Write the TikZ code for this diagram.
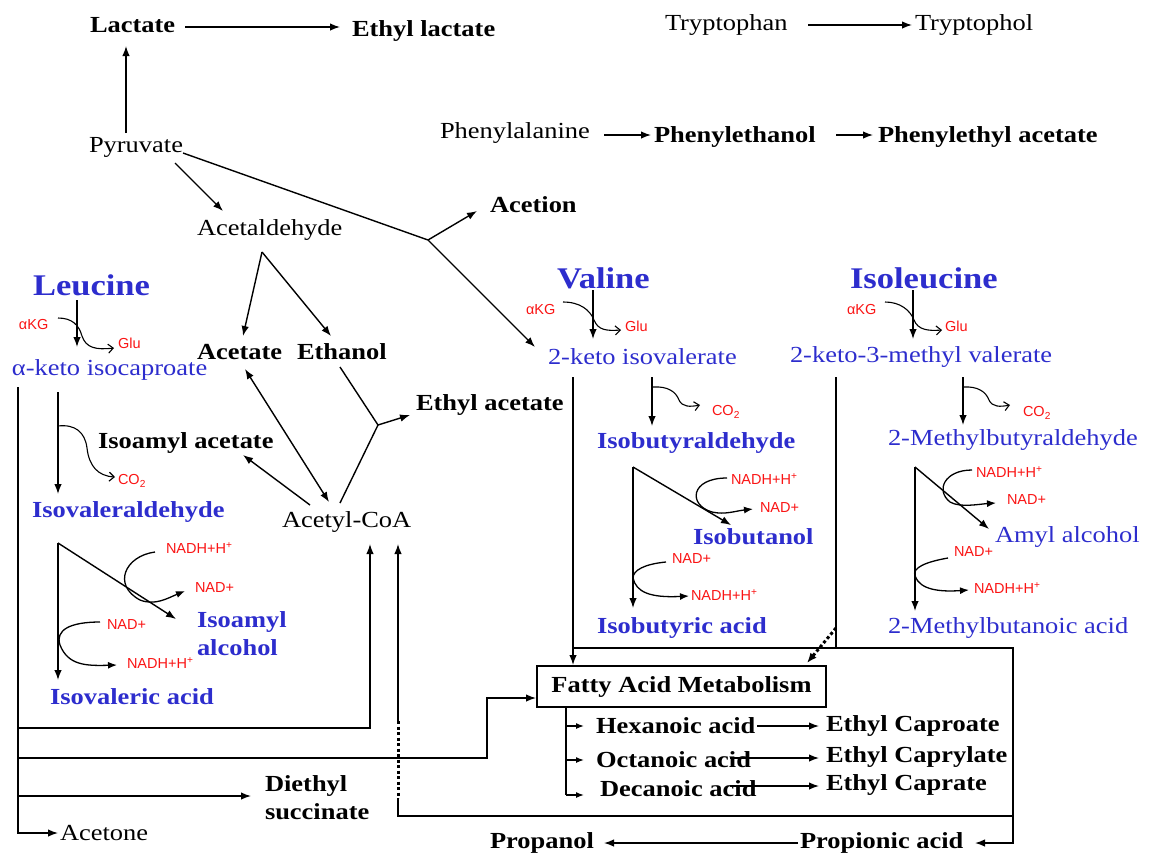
\documentclass[tikz,border=0pt]{standalone}
\usepackage{fontspec}
\setmainfont[FakeStretch=1.15]{Liberation Serif}
\newfontfamily\lblfont{Liberation Sans}
\usetikzlibrary{arrows.meta}
\definecolor{aablue}{RGB}{45,45,205}
\definecolor{aared}{RGB}{250,20,20}
\tikzset{
 every node/.style={inner sep=0pt, outer sep=0pt, anchor=west},
 rt/.style={font=\fontsize{23}{28}\selectfont},
 bt/.style={font=\fontsize{23}{28}\selectfont\bfseries},
 hd/.style={font=\fontsize{30}{32}\selectfont\bfseries, text=aablue},
 brt/.style={rt, text=aablue},
 bbt/.style={bt, text=aablue},
 lbl/.style={font=\lblfont\fontsize{14.5}{15}\selectfont, text=aared},
 conn/.style={line width=1.4pt},
 arr/.style={conn, -{Latex[length=10pt,width=7.5pt]}},
 sarr/.style={conn, -{Latex[length=8pt,width=6pt]}},
 darr/.style={conn, {Latex[length=10pt,width=7.5pt]}-{Latex[length=10pt,width=7.5pt]}},
 barb/.style={line width=1.1pt, -{Straight Barb[length=5pt,width=9pt]}},
 curv/.style={line width=1.3pt, -{Latex[length=9pt,width=7pt]}},
 dots/.style={line width=3pt, dash pattern=on 3pt off 2.5pt},
}
\begin{document}
\begin{tikzpicture}[x=1pt,y=-1pt]
\useasboundingbox (0,0) rectangle (1151,855);

% ---------- top ----------
\node[bt] (lact) at (90,25) {Lactate};
\node[bt] (elact) at (352,31) {Ethyl lactate};
\node[rt] (pyr) at (89,147) {Pyruvate};
\node[rt] (acald) at (197,230) {Acetaldehyde};
\node[bt] (acetion) at (490,205) {Acetion};
\node[rt] (trp) at (665,25) {Tryptophan};
\node[rt] (trpol) at (915,25) {Tryptophol};
\node[rt] (phe) at (440,133) {Phenylalanine};
\node[bt] (pheol) at (654,137) {Phenylethanol};
\node[bt] (pheac) at (878,137) {Phenylethyl acetate};

\coordinate (la1) at (185,27); \coordinate (la2) at (340,27);
\draw[arr] (la1) -- (la2);
\coordinate (py1) at (126,133); \coordinate (py2) at (126,46);
\draw[arr] (py1) -- (py2);
\coordinate (py3) at (175,163); \coordinate (py4) at (223,211);
\draw[arr] (py3) -- (py4);
\coordinate (py5) at (183,153); \coordinate (jn1) at (428,240);
\coordinate (kv0) at (535,347); \coordinate (ac0) at (477,211);
\draw[arr] (py5) -- (jn1) -- (kv0);
\draw[arr] (jn1) -- (ac0);
\coordinate (tr1) at (808,25); \coordinate (tr2) at (912,25);
\draw[arr] (tr1) -- (tr2);
\coordinate (ph1) at (604,135); \coordinate (ph2) at (651,135);
\draw[arr] (ph1) -- (ph2);
\coordinate (ph3) at (836,135); \coordinate (ph4) at (873,135);
\draw[arr] (ph3) -- (ph4);

% ---------- middle ----------
\node[bt] (acetate) at (197,352) {Acetate};
\node[bt] (ethanol) at (297,352) {Ethanol};
\node[bt] (eacet) at (416,405) {Ethyl acetate};
\node[bt] (iaac) at (98,443) {Isoamyl acetate};
\node[rt] (acoa) at (282,522) {Acetyl-CoA};

\coordinate (ad0) at (262,252); \coordinate (ad1) at (243,336); \coordinate (ad2) at (331,336);
\draw[arr] (ad0) -- (ad1);
\draw[arr] (ad0) -- (ad2);
\coordinate (et1) at (340,367); \coordinate (jn2) at (378,425);
\coordinate (co1) at (340,503); \coordinate (ea1) at (410,415);
\draw[conn] (et1) -- (jn2);
\draw[arr] (co1) -- (jn2) -- (ea1);
\coordinate (at1) at (245,369); \coordinate (co2) at (329,502);
\draw[darr] (at1) -- (co2);
\coordinate (co3) at (310,505); \coordinate (ia1) at (243,455);
\draw[arr] (co3) -- (ia1);

% ---------- Leucine ----------
\node[hd] (leu) at (33,285) {Leucine};
\node[lbl] (akg1) at (19,325) {αKG};
\node[lbl] (glu1) at (118,343) {Glu};
\node[brt] (kic) at (12,370) {α-keto isocaproate};
\node[lbl] (co21) at (118,481) {CO\textsubscript{2}};
\node[bbt] (ival) at (32,512) {Isovaleraldehyde};
\node[lbl] (nadh1a) at (166,548) {NADH+H\textsuperscript{+}};
\node[lbl] (nad1a) at (195,588) {NAD+};
\node[bbt, align=left] (iaalc) at (197,634) {Isoamyl\\alcohol};
\node[lbl] (nad1b) at (107,625) {NAD+};
\node[lbl] (nadh1b) at (127,663) {NADH+H\textsuperscript{+}};
\node[bbt] (ivac) at (50,697) {Isovaleric acid};

\coordinate (l1a) at (77,300); \coordinate (l1b) at (77,347);
\draw[arr] (l1a) -- (l1b);
\coordinate (l1c) at (58,318); \coordinate (l1d) at (114,348);
\draw[barb] (l1c) .. controls (72,318) and (79,325) .. (82,336) .. controls (86,348) and (96,350) .. (l1d);
\coordinate (l2a) at (58,392); \coordinate (l2b) at (58,494);
\draw[arr] (l2a) -- (l2b);
\coordinate (l2c) at (58,426); \coordinate (l2d) at (115,477);
\draw[barb] (l2c) .. controls (75,424) and (85,432) .. (87,448) .. controls (89,466) and (98,476) .. (l2d);
\coordinate (l3a) at (58,543); \coordinate (l3b) at (58,680); \coordinate (l3c) at (176,619);
\draw[arr] (l3a) -- (l3b);
\draw[arr] (l3a) -- (l3c);
\coordinate (l3d) at (155,552); \coordinate (l3e) at (185,591);
\draw[curv] (l3d) .. controls (125,556) and (112,585) .. (140,600) .. controls (155,606) and (168,598) .. (l3e);
\coordinate (l3f) at (100,622); \coordinate (l3g) at (117,665);
\draw[curv] (l3f) .. controls (70,622) and (55,630) .. (60,645) .. controls (68,665) and (85,666) .. (l3g);

% ---------- Valine ----------
\node[hd] (val) at (557,278) {Valine};
\node[lbl] (akg2) at (526,310) {αKG};
\node[lbl] (glu2) at (625,326) {Glu};
\node[brt] (kiv) at (548,357) {2-keto isovalerate};
\node[lbl] (co22) at (712,412) {CO\textsubscript{2}};
\node[bbt] (ibal) at (597,443) {Isobutyraldehyde};
\node[lbl] (nadh2a) at (731,479) {NADH+H\textsuperscript{+}};
\node[lbl] (nad2a) at (760,508) {NAD+};
\node[bbt] (ibol) at (693,537) {Isobutanol};
\node[lbl] (nad2b) at (672,559) {NAD+};
\node[lbl] (nadh2b) at (691,595) {NADH+H\textsuperscript{+}};
\node[bbt] (ibac) at (597,628) {Isobutyric acid};

\coordinate (v1a) at (593,290); \coordinate (v1b) at (593,339);
\draw[arr] (v1a) -- (v1b);
\coordinate (v1c) at (563,302); \coordinate (v1d) at (621,330);
\draw[barb] (v1c) .. controls (580,302) and (590,310) .. (594,320) .. controls (598,330) and (606,331) .. (v1d);
\coordinate (v2a) at (652,377); \coordinate (v2b) at (652,426);
\draw[arr] (v2a) -- (v2b);
\coordinate (v2c) at (653,387); \coordinate (v2d) at (700,405);
\draw[barb] (v2c) .. controls (668,386) and (676,392) .. (679,400) .. controls (682,407) and (690,407) .. (v2d);
\coordinate (v3a) at (633,467); \coordinate (v3b) at (633,608); \coordinate (v3c) at (731,525);
\draw[arr] (v3a) -- (v3b);
\draw[arr] (v3a) -- (v3c);
\coordinate (v3d) at (727,478); \coordinate (v3e) at (753,509);
\draw[curv] (v3d) .. controls (690,478) and (688,505) .. (712,512) .. controls (725,515) and (735,511) .. (v3e);
\coordinate (v3f) at (666,562); \coordinate (v3g) at (689,596);
\draw[curv] (v3f) .. controls (645,564) and (633,570) .. (633,578) .. controls (636,592) and (650,598) .. (v3g);

% ---------- Isoleucine ----------
\node[hd] (ile) at (850,278) {Isoleucine};
\node[lbl] (akg3) at (847,310) {αKG};
\node[lbl] (glu3) at (945,326) {Glu};
\node[brt] (kmv) at (790,357) {2-keto-3-methyl valerate};
\node[lbl] (co23) at (1023,413) {CO\textsubscript{2}};
\node[brt] (mbal) at (888,440) {2-Methylbutyraldehyde};
\node[lbl] (nadh3a) at (976,472) {NADH+H\textsuperscript{+}};
\node[lbl] (nad3a) at (1007,500) {NAD+};
\node[brt] (amyl) at (995,537) {Amyl alcohol};
\node[lbl] (nad3b) at (954,552) {NAD+};
\node[lbl] (nadh3b) at (974,588) {NADH+H\textsuperscript{+}};
\node[brt] (mbac) at (888,628) {2-Methylbutanoic acid};

\coordinate (i1a) at (913,290); \coordinate (i1b) at (913,339);
\draw[arr] (i1a) -- (i1b);
\coordinate (i1c) at (885,302); \coordinate (i1d) at (942,330);
\draw[barb] (i1c) .. controls (900,302) and (910,310) .. (914,320) .. controls (918,330) and (928,331) .. (i1d);
\coordinate (i2a) at (963,377); \coordinate (i2b) at (963,425);
\draw[arr] (i2a) -- (i2b);
\coordinate (i2c) at (963,387); \coordinate (i2d) at (1010,405);
\draw[barb] (i2c) .. controls (978,386) and (986,392) .. (989,400) .. controls (992,407) and (1000,407) .. (i2d);
\coordinate (i3a) at (915,467); \coordinate (i3b) at (915,611); \coordinate (i3c) at (989,529);
\draw[arr] (i3a) -- (i3b);
\draw[arr] (i3a) -- (i3c);
\coordinate (i3d) at (972,470); \coordinate (i3e) at (996,503);
\draw[curv] (i3d) .. controls (945,470) and (935,490) .. (950,502) .. controls (960,508) and (980,504) .. (i3e);
\coordinate (i3f) at (948,558); \coordinate (i3g) at (969,590);
\draw[curv] (i3f) .. controls (925,562) and (912,568) .. (915,576) .. controls (920,590) and (940,592) .. (i3g);

% ---------- lower network ----------
\node[draw, line width=1.4pt, bt, minimum width=289pt, minimum height=41pt, anchor=north west] (fam) at (537,666) {Fatty Acid Metabolism};
\node[bt] (hex) at (596,726) {Hexanoic acid};
\node[bt] (oct) at (596,760) {Octanoic acid};
\node[bt] (dec) at (600,789) {Decanoic acid};
\node[bt] (ecap1) at (826,726) {Ethyl Caproate};
\node[bt] (ecap2) at (826,757) {Ethyl Caprylate};
\node[bt] (ecap3) at (826,785) {Ethyl Caprate};
\node[bt] (propanol) at (490,843) {Propanol};
\node[bt] (propac) at (800,843) {Propionic acid};
\node[bt, align=left] (dsucc) at (265,798) {Diethyl\\succinate};
\node[rt] (acetone) at (60,833) {Acetone};

% left trunk
\coordinate (lt0) at (18,387); \coordinate (lt1) at (18,833); \coordinate (lt2) at (58,833);
\draw[arr] (lt0) -- (lt1) -- (lt2);
\coordinate (lh1) at (18,728); \coordinate (lh2) at (370,728); \coordinate (lh3) at (370,544);
\draw[arr] (lh1) -- (lh2) -- (lh3);
\coordinate (lg1) at (18,758); \coordinate (lg2) at (487,758); \coordinate (lg3) at (487,698); \coordinate (lg4) at (536,698);
\draw[arr] (lg1) -- (lg2) -- (lg3) -- (lg4);
\coordinate (ld1) at (18,796); \coordinate (ld2) at (251,796);
\draw[arr] (ld1) -- (ld2);

% dotted column to Acetyl-CoA
\coordinate (dc1) at (398,721); \coordinate (dc2) at (398,544);
\coordinate (dc3) at (398,798); \coordinate (dc4) at (398,816); \coordinate (rb1) at (1013,816);
\draw[arr] (dc1) -- (dc2);
\draw[dots] (dc1) -- (dc3);
\draw[conn] (dc3) -- (dc4) -- (rb1);

% right network
\coordinate (vc1) at (573,377); \coordinate (vc2) at (573,648); \coordinate (vc3) at (573,665);
\coordinate (rb0) at (1013,648); \coordinate (rb2) at (1013,843); \coordinate (rb3) at (975,843);
\draw[arr] (vc1) -- (vc3);
\draw[arr] (vc2) -- (rb0) -- (rb2) -- (rb3);
\coordinate (ic1) at (836,377); \coordinate (ic2) at (836,648);
\draw[conn] (ic1) -- (ic2);
\coordinate (id1) at (836,628); \coordinate (id2) at (807,663);
\draw[dots, -{Latex[length=10pt,width=8pt]}] (id1) -- (id2);

% fatty acid branches
\coordinate (fb0) at (566,707); \coordinate (fb1) at (566,726); \coordinate (fb2) at (566,760); \coordinate (fb3) at (566,795);
\coordinate (fe1) at (584,726); \coordinate (fe2) at (584,760); \coordinate (fe3) at (584,795);
\draw[conn] (fb0) -- (fb3);
\draw[sarr] (fb1) -- (fe1);
\draw[sarr] (fb2) -- (fe2);
\draw[sarr] (fb3) -- (fe3);
\coordinate (hx1) at (757,726); \coordinate (hx2) at (819,726);
\coordinate (oc1) at (730,758); \coordinate (oc2) at (819,758);
\coordinate (de1) at (730,786); \coordinate (de2) at (819,786);
\draw[arr] (hx1) -- (hx2);
\draw[arr] (oc1) -- (oc2);
\draw[arr] (de1) -- (de2);
\coordinate (pp1) at (798,843); \coordinate (pp2) at (604,843);
\draw[arr] (pp1) -- (pp2);
\end{tikzpicture}
\end{document}
